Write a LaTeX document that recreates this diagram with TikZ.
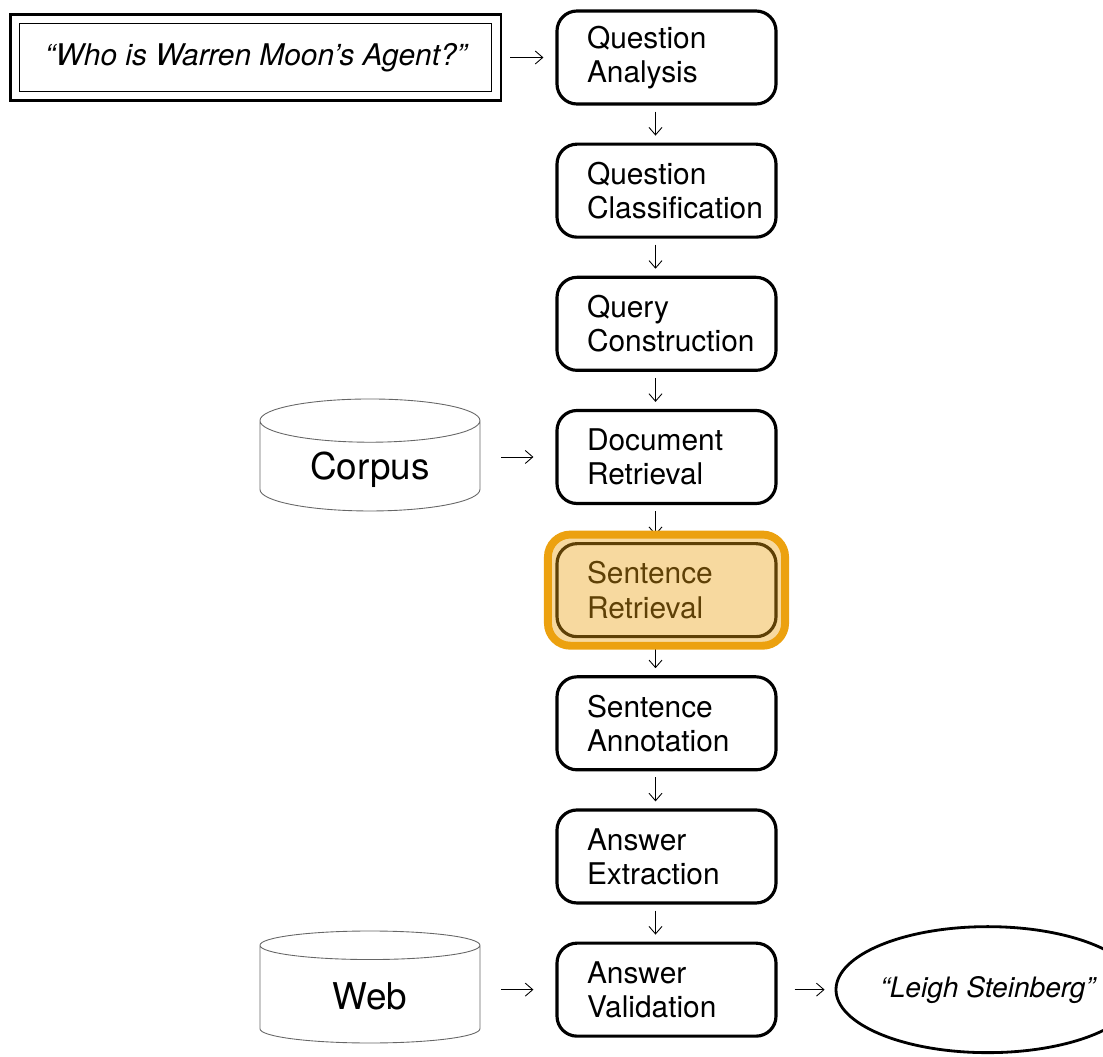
\documentclass[tikz,border=0pt]{standalone}
\usepackage{fontspec}
\setmainfont{TeX Gyre Heros}
\usetikzlibrary{arrows.meta,calc,positioning,shapes.geometric}
\definecolor{hlorange}{RGB}{236,161,15}

\begin{document}
\begin{tikzpicture}[>={Straight Barb[length=1.5mm,width=2.6mm]},node distance=7.4mm,
  stepbox/.style={draw,line width=1.8pt,rounded corners=4mm,minimum width=4.38cm,minimum height=1.86cm,
    text width=3.18cm,align=left,font=\fontsize{17}{19.5}\selectfont},
  store/.style={cylinder,shape border rotate=90,draw=black!60,line width=0.5pt,aspect=0.33,
    minimum width=4.4cm,minimum height=2.24cm,font=\fontsize{21}{24}\selectfont},
  flow/.style={->,line width=0.5pt}]
  \useasboundingbox (0,0) rectangle (22.06,-21.14);
  % pipeline
  \node[stepbox] (qa) at (13.33,-1.15) {Question\\ Analysis};
  \node[stepbox,below=of qa] (qc) {Question\\ Classification};
  \node[stepbox,below=of qc] (qcon) {Query\\ Construction};
  \node[stepbox,below=of qcon] (dr) {Document\\ Retrieval};
  \node[stepbox,below=of dr] (sr) {Sentence\\ Retrieval};
  \node[stepbox,below=of sr] (sa) {Sentence\\ Annotation};
  \node[stepbox,below=of sa] (ae) {Answer\\ Extraction};
  \node[stepbox,below=of ae] (av) {Answer\\ Validation};
  % input, sources and output
  \node[draw,line width=0.6pt,minimum width=9.44cm,minimum height=1.36cm,
    font=\itshape\fontsize{17}{20}\selectfont,left=1.26cm of qa] (q) {“Who is Warren Moon’s Agent?”};
  \draw[line width=1.6pt] ($(q.south west)+(-0.17,-0.17)$) rectangle ($(q.north east)+(0.17,0.17)$);
  \node[store,left=1.5cm of dr,yshift=-2.5mm] (corpus) {Corpus};
  \node[store,left=1.5cm of av,yshift=-1.4mm] (web) {Web};
  \node[ellipse,draw,line width=1.6pt,inner sep=0pt,minimum width=5.56cm,minimum height=2.52cm,
    font=\itshape\fontsize{16}{20}\selectfont,right=1.14cm of av] (ans) {“Leigh Steinberg”};
  % arrows
  \foreach \a/\b in {qa/qc,qc/qcon,qcon/dr,dr/sr,sr/sa,sa/ae,ae/av}
    \draw[flow,shorten <=1.2mm,shorten >=1.4mm] ([xshift=-2.2mm]\a.south) -- ([xshift=-2.2mm]\b.north);
  \draw[flow,shorten <=3.6mm,shorten >=2.4mm] (q) -- (qa);
  \draw[flow,shorten <=4.2mm,shorten >=4.4mm] (dr.west -| corpus.east) -- (dr.west);
  \draw[flow,shorten <=4.2mm,shorten >=4.4mm] (av.west -| web.east) -- (av.west);
  \draw[flow,shorten <=3.4mm,shorten >=2mm] (av) -- (ans);
  % highlight
  \draw[draw=hlorange,fill=hlorange,fill opacity=0.4,line width=4.5pt,rounded corners=4.5mm]
    ($(sr.north west)+(-0.15,0.15)$) rectangle ($(sr.south east)+(0.15,-0.15)$);
\end{tikzpicture}
\end{document}
